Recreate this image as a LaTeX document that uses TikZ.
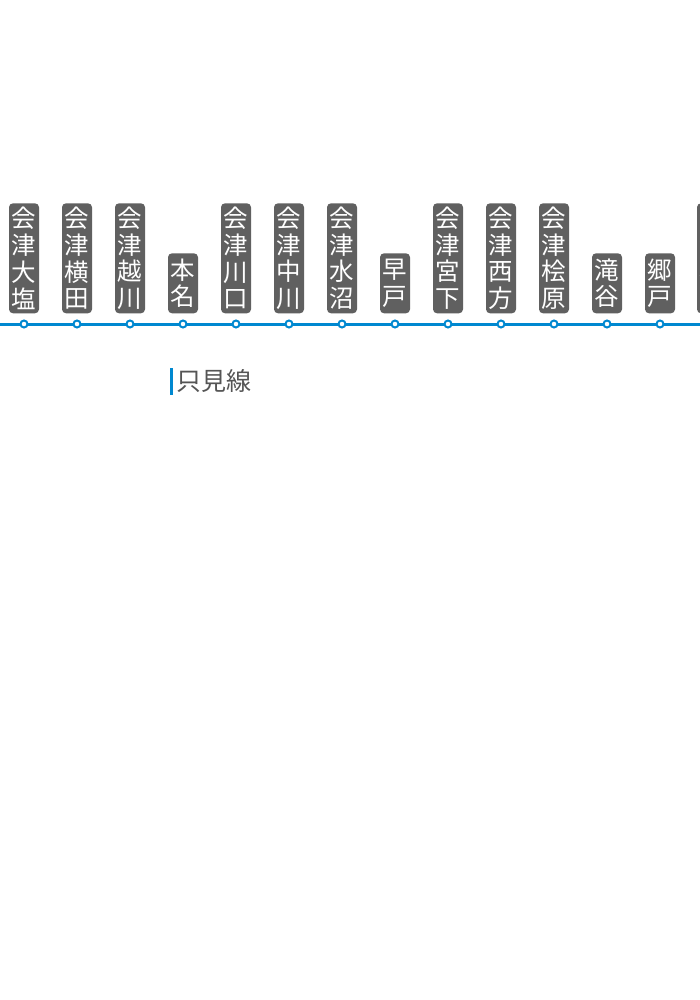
\documentclass[tikz,border=0pt]{standalone}
\usepackage{fontspec}
\newfontfamily\cjk{Noto Sans CJK JP}
\definecolor{lineblue}{HTML}{0088D0}
\definecolor{boxgrey}{HTML}{606060}
\definecolor{labelgrey}{HTML}{555555}
\tikzset{
  stnbox/.style={fill=boxgrey, rounded corners=4pt, text=white, align=center,
    minimum width=30pt, inner sep=0pt, anchor=south,
    font=\cjk\fontsize{24.5}{26.7}\selectfont},
  tall/.style={minimum height=110pt},
  short/.style={minimum height=60pt},
  stndot/.style={circle, draw=lineblue, fill=white, line width=2pt, minimum size=7pt, inner sep=0pt},
  railline/.style={draw=lineblue, line width=3pt},
}
\begin{document}
\begin{tikzpicture}[x=1pt,y=-1pt]
\useasboundingbox (0,0) rectangle (700,1000);
\clip (0,0) rectangle (700,1000);
\fill[white] (0,0) rectangle (700,1000);
\coordinate (W) at (0,324);
\coordinate (E) at (700,324);
\draw[railline] (W) -- (E);
\foreach \x/\n/\t/\h in {
  24/s1/{会\\津\\大\\塩}/tall,
  77/s2/{会\\津\\横\\田}/tall,
  130/s3/{会\\津\\越\\川}/tall,
  183/s4/{本\\名}/short,
  236/s5/{会\\津\\川\\口}/tall,
  289/s6/{会\\津\\中\\川}/tall,
  342/s7/{会\\津\\水\\沼}/tall,
  395/s8/{早\\戸}/short,
  448/s9/{会\\津\\宮\\下}/tall,
  501/s10/{会\\津\\西\\方}/tall,
  554/s11/{会\\津\\桧\\原}/tall,
  607/s12/{滝\\谷}/short,
  660/s13/{郷\\戸}/short,
  712/s14/{会\\津\\柳\\津}/tall}{
  \node[stnbox,\h] (b\n) at (\x,313.5) {\t};
  \node[stndot] (\n) at (\x,324) {};
}
\node[anchor=west, inner sep=0pt, text=labelgrey, font=\cjk\fontsize{25}{27}\selectfont] (lbl) at (176,381) {只見線};
\draw[lineblue, line width=3pt] (171.5,368) -- (171.5,395);
\end{tikzpicture}
\end{document}
